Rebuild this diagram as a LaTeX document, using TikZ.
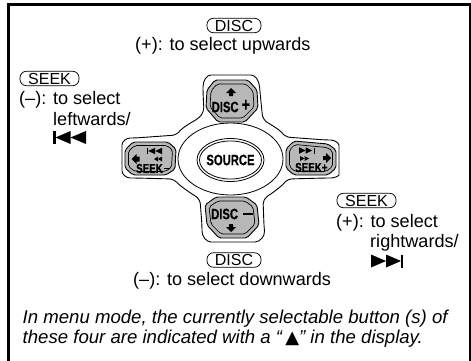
\documentclass[tikz,border=0pt]{standalone}
\usepackage{fontspec}
\setmainfont{Liberation Sans}
\newfontfamily\keyfont[FakeStretch=.75,BoldFeatures={FakeBold=.5}]{Liberation Sans}
\newfontfamily\symfont{DejaVu Sans}
\usetikzlibrary{positioning}

\newcommand{\fsize}[1]{\fontsize{#1}{#1}\selectfont}

\tikzset{
  desc/.style={inner sep=0pt,anchor=base west,font=\fsize{18.1}},
  pill/.style={draw,rounded corners=6.5pt,line width=.7pt,inner sep=0pt,minimum width=#1,minimum height=14.5pt,font=\fsize{16}},
  keytext/.style={inner sep=0pt,font=\keyfont\bfseries\fsize{#1}},
  note/.style={inner sep=0pt,anchor=base west,font=\itshape\fsize{18.6}},
  keyface/.style={draw,fill=black!28,line width=.9pt,rounded corners=2pt},
  icon/.style={fill=black,draw=none}
}

% small pictures for the arrow signs
\newcommand{\backtri}[4]{\fill[icon] (#1,#2) -- ++(#3,-#4/2) -- ++(0,#4) -- cycle;}
\newcommand{\fwdtri}[4]{\fill[icon] (#1,#2) -- ++(-#3,-#4/2) -- ++(0,#4) -- cycle;}

\begin{document}
\begin{tikzpicture}[x=1pt,y=-1pt]
  \useasboundingbox (0,0) rectangle (471,361);
  \draw[line width=2.7pt] (8.4,362) -- (8.4,4.5) -- (470,4.5) -- (470,362);

  % outline of the pad
  \draw[line width=.9pt,rounded corners=5pt]
    (203,92) .. controls (203,80) and (207,75) .. (216,75) -- (246,75)
    .. controls (255,75) and (259,80) .. (260,92) -- (262,112) -- (263,120)
    .. controls (270,124) and (280,130) .. (285,137) -- (326,140)
    .. controls (334,140) and (339,143) .. (339,150) -- (339,170)
    .. controls (339,176) and (334,178) .. (326,178) -- (287,179)
    .. controls (282,186) and (271,194) .. (263,199) -- (264,226)
    .. controls (265,236) and (260,242) .. (250,242) -- (216,242)
    .. controls (206,242) and (202,236) .. (202,226) -- (200,199)
    .. controls (192,194) and (180,186) .. (174,179) -- (135,178)
    .. controls (126,178) and (122,174) .. (122,166) -- (122,150)
    .. controls (122,141) and (127,138) .. (135,138) -- (177,135)
    .. controls (182,128) and (192,122) .. (198,119) -- (204,112) -- cycle;

  % the four keys, outer and inner face
  \draw[keyface] (215,80) -- (248,80) -- (257,90) -- (258,108) -- (245,122) -- (218,122) -- (206,108) -- (207,90) -- cycle;
  \draw[keyface,line width=.7pt] (217,84) -- (246,84) -- (253,91) -- (254,107) -- (243,118) -- (220,118) -- (210,107) -- (211,91) -- cycle;
  \draw[keyface] (216,197) -- (246,197) -- (257,205) -- (259,225) -- (247,238) -- (219,238) -- (207,225) -- (205,205) -- cycle;
  \draw[keyface,line width=.7pt] (218,201) -- (245,201) -- (253,207) -- (255,224) -- (245,234) -- (221,234) -- (211,224) -- (209,207) -- cycle;
  \draw[keyface] (133,142) -- (168,142) -- (176,149) -- (175,169) -- (166,175) -- (133,175) -- (125,168) -- (125,150) -- cycle;
  \draw[keyface,line width=.7pt] (135,145.5) -- (167,145.5) -- (172.5,150) -- (171.5,167.5) -- (165,171.5) -- (135,171.5) -- (128.5,166.5) -- (128.5,151) -- cycle;
  \draw[keyface] (294,141) -- (328,144) -- (336,150) -- (336,168) -- (328,175) -- (294,175) -- (286,168) -- (286,149) -- cycle;
  \draw[keyface,line width=.7pt] (295,144.5) -- (327,147.5) -- (332.5,151) -- (332.5,166.5) -- (326,171.5) -- (295,171.5) -- (289.5,166.5) -- (289.5,150) -- cycle;

  % centre button
  \draw[line width=.8pt,fill=white] (230.5,159) ellipse (52.5 and 36);
  \draw[line width=.8pt] (230.5,160) ellipse (33.5 and 21.5);
  \draw[line width=.8pt] (230.5,160) ellipse (31 and 19);
  \node[keytext=15] (source) at (230.5,160) {SOURCE};

  % texts on the keys
  \node[keytext=15,anchor=west] (discup) at (211.5,107) {DISC};
  \node[keytext=19,anchor=west] (plusup) at (241.5,105.5) {+};
  \node[keytext=15,anchor=west] (discdown) at (211,214) {DISC};
  \fill (243,213) rectangle (253,214.5);
  \node[keytext=13,anchor=west] (seekleft) at (136,168.5) {SEEK};
  \fill (164,167.5) rectangle (170,168.5);
  \node[keytext=13,anchor=west] (seekright) at (295,167.5) {SEEK+};

  % block arrows on the keys
  \fill[icon] (231,88) -- (236,93) -- (233,93) -- (233,96) -- (229,96) -- (229,93) -- (226,93) -- cycle;
  \fill[icon] (231,232) -- (236,227) -- (233,227) -- (233,224) -- (229,224) -- (229,227) -- (226,227) -- cycle;
  \fill[icon] (131.5,159) -- (136.5,154) -- (136.5,156.5) -- (139.5,156.5) -- (139.5,161.5) -- (136.5,161.5) -- (136.5,164) -- cycle;
  \fill[icon] (331,158) -- (326,153) -- (326,156) -- (323,156) -- (323,160) -- (326,160) -- (326,163) -- cycle;

  % skip signs on the keys
  \fill (147,148) rectangle (148.2,154);
  \backtri{148.2}{151}{7}{6.5}
  \backtri{155.2}{151}{7}{6.5}
  \backtri{154}{159}{4}{5}
  \backtri{158}{159}{4}{5}
  \fwdtri{305.5}{150.5}{6.5}{6.5}
  \fwdtri{312}{150.5}{6.5}{6.5}
  \fill (314,147.5) rectangle (315.3,153.5);
  \fwdtri{304.5}{158.5}{4.5}{5}
  \fwdtri{309}{158.5}{4.5}{5}

  % signs in the text
  \fill (53,131) rectangle (55.5,144);
  \backtri{55.5}{137.5}{15}{13}
  \backtri{70.5}{137.5}{15.5}{13}
  \fwdtri{386}{261}{15}{13}
  \fwdtri{401}{261}{15}{13}
  \fill (400.5,254.5) rectangle (403,267.5);

  % labels round the pad
  \node[pill=54pt] (discplus) at (234,25.5) {DISC};
  \node[desc] (upwards) at (135,51) {(+): to select upwards};
  \node[pill=59pt] (seekminus) at (49.5,78.5) {SEEK};
  \node[desc] (minus) at (19,104) {(–): to select};
  \node[desc] (leftwards) at (53,125) {leftwards/};
  \node[pill=59pt] (seekplus) at (366.5,200.5) {SEEK};
  \node[desc] (plus) at (336,227) {(+): to select};
  \node[desc] (rightwards) at (370,247) {rightwards/};
  \node[pill=54pt] (discminus) at (234,260) {DISC};
  \node[desc] (downwards) at (133,285) {(–): to select downwards};
  \node[note] (noteone) at (22.5,323) {In menu mode, the currently selectable button (s) of};
  \node[note] (notetwo) at (22.5,343.5) {these four are indicated with a “\,{\symfont\upshape\fsize{18}▲}” in the display.};
\end{tikzpicture}
\end{document}
